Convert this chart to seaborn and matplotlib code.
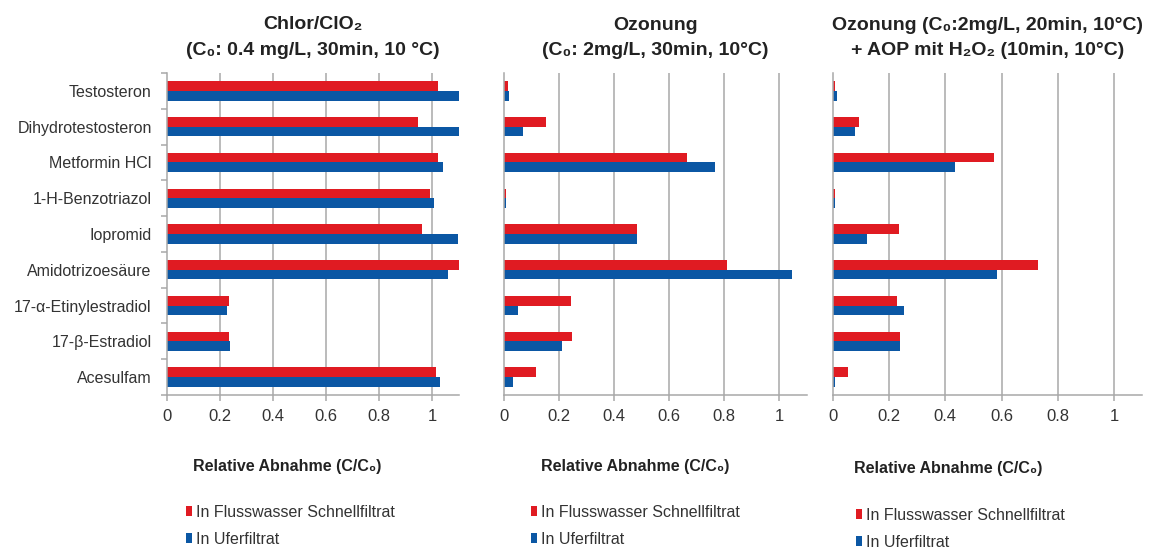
import matplotlib
matplotlib.use("Agg")
import matplotlib.pyplot as plt
from matplotlib.patches import Patch
import seaborn as sns
import pandas as pd

substances = ["Testosteron", "Dihydrotestosteron", "Metformin HCl", "1-H-Benzotriazol",
              "Iopromid", "Amidotrizoesäure", "17-α-Etinylestradiol", "17-β-Estradiol", "Acesulfam"]
series_names = ["In Flusswasser Schnellfiltrat", "In Uferfiltrat"]

chlor_fluss = [1.02, 0.945, 1.02, 0.99, 0.96, 1.10, 0.233, 0.233, 1.014]
chlor_ufer = [1.10, 1.10, 1.04, 1.004, 1.096, 1.06, 0.225, 0.239, 1.029]
ozon_fluss = [0.013, 0.151, 0.664, 0.008, 0.482, 0.808, 0.242, 0.248, 0.115]
ozon_ufer = [0.018, 0.068, 0.767, 0.008, 0.482, 1.044, 0.05, 0.21, 0.032]
aop_fluss = [0.008, 0.094, 0.574, 0.008, 0.234, 0.728, 0.228, 0.238, 0.055]
aop_ufer = [0.013, 0.077, 0.433, 0.008, 0.12, 0.585, 0.252, 0.238, 0.008]

titles = [
    "Chlor/ClO\u2082\n(C\u2080: 0.4 mg/L, 30min, 10 °C)",
    "Ozonung\n(C\u2080: 2mg/L, 30min, 10°C)",
    "Ozonung (C\u2080:2mg/L, 20min, 10°C)\n+ AOP mit H\u2082O\u2082 (10min, 10°C)",
]
xlabel = "Relative Abnahme (C/C\u2080)"
xticks = [0, 0.2, 0.4, 0.6, 0.8, 1]
xticklabels = ["0", "0.2", "0.4", "0.6", "0.8", "1"]

RED = "#e01b22"
BLUE = "#0b57a4"
GRID = "#a8a8a8"

sns.set_theme(style="white")
plt.rcParams["font.family"] = ["Liberation Sans", "DejaVu Sans"]

W, H = 1156, 548
fig = plt.figure(figsize=(W / 100, H / 100), dpi=100)

def fx(px):
    return px / W

def fy(py):
    return 1 - py / H

panels = [
    (chlor_fluss, chlor_ufer, 167, 459),
    (ozon_fluss, ozon_ufer, 504, 807),
    (aop_fluss, aop_ufer, 833, 1142),
]
top_px, bot_px = 73, 395
xlabel_centers = [287, 635, 948]
xlabel_y = [467, 467, 469]
legend_pos = [(186, 505), (531, 505), (856, 508)]

for i, (fl, uf, l, r) in enumerate(panels):
    ax = fig.add_axes([fx(l), fy(bot_px), (r - l) / W, (bot_px - top_px) / H])
    df = pd.DataFrame({
        "Substanz": substances * 2,
        "Wert": list(fl) + list(uf),
        "Matrix": [series_names[0]] * len(substances) + [series_names[1]] * len(substances),
    })
    sns.barplot(data=df, x="Wert", y="Substanz", hue="Matrix", order=substances,
                hue_order=series_names, palette=[RED, BLUE], width=0.54,
                orient="h", saturation=1, ax=ax, legend=False, errorbar=None,
                linewidth=0)
    ax.set_xlim(0, 1.1)
    ax.set_ylim(len(substances) - 0.5, -0.5)
    ax.set_xticks(xticks)
    ax.set_xticklabels(xticklabels, fontsize=12, color="#333333")
    ax.set_xlabel("")
    ax.set_ylabel("")
    for x in xticks[1:]:
        ax.axvline(x, color=GRID, lw=1.1, zorder=0)
    for s in ["top", "right"]:
        ax.spines[s].set_visible(False)
    for s in ["left", "bottom"]:
        ax.spines[s].set_color(GRID)
        ax.spines[s].set_linewidth(1.1)
    ax.tick_params(axis="x", direction="out", length=4, width=1.1, color=GRID, pad=6, bottom=True)
    if i == 0:
        ax.set_yticks(range(len(substances)))
        ax.set_yticklabels(substances, fontsize=11.5, color="#333333")
        ax.tick_params(axis="y", which="major", length=0, pad=11)
        ax.set_yticks([k + 0.5 for k in range(-1, len(substances))], minor=True)
        ax.tick_params(axis="y", which="minor", direction="out", length=4, width=1.1, color=GRID, left=True)
    else:
        ax.set_yticks([])
    ax.set_axisbelow(True)

    cx = (l + r) / 2
    t1, t2 = titles[i].split("\n")
    fig.text(fx(cx), fy(25), t1, ha="center", va="center", fontsize=14, fontweight="bold", color="#222222")
    fig.text(fx(cx), fy(50), t2, ha="center", va="center", fontsize=14, fontweight="bold", color="#222222")
    fig.text(fx(xlabel_centers[i]), fy(xlabel_y[i]), xlabel, ha="center", va="center",
             fontsize=11.5, fontweight="bold", color="#222222")

    handles = [Patch(facecolor=RED, edgecolor="none"), Patch(facecolor=BLUE, edgecolor="none")]
    lx, ly = legend_pos[i]
    fig.legend(handles, series_names, loc="upper left", bbox_to_anchor=(fx(lx), fy(ly)),
               bbox_transform=fig.transFigure, frameon=False, fontsize=11.5,
               handlelength=0.35, handleheight=0.6, handletextpad=0.3, labelspacing=0.75,
               borderpad=0, borderaxespad=0, labelcolor="#333333")

fig.savefig("out.png", dpi=100)
